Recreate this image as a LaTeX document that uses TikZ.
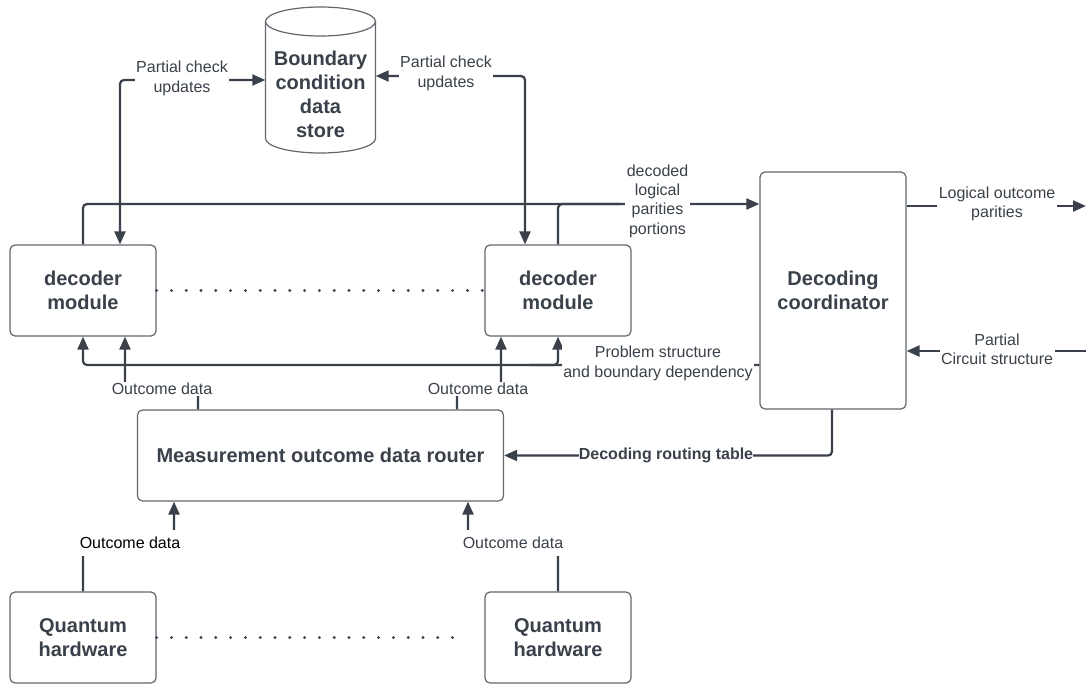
\documentclass[tikz,border=0pt]{standalone}
\usepackage{fontspec}
\setmainfont{Liberation Sans}
\usetikzlibrary{arrows.meta,calc}
\definecolor{ink}{RGB}{58,65,74}
\definecolor{edgec}{RGB}{98,102,110}
\begin{document}
\begin{tikzpicture}[x=1pt,y=-1pt,
 box/.style={draw=edgec,line width=1.2pt,rounded corners=5pt,fill=white,align=center,text=ink,
   font=\fontsize{20}{24}\selectfont\bfseries,minimum width=146pt,minimum height=91pt,inner sep=0pt},
 conn/.style={draw=ink,line width=2.2pt,rounded corners=4pt,>={Triangle[length=13pt,width=11pt]}},
 lbl/.style={fill=white,text=ink,align=center,font=\fontsize{16}{19.3}\selectfont,inner xsep=1.5pt,inner ysep=1pt},
 dots/.style={draw=ink,line width=3.2pt,line cap=round,dash pattern=on 0pt off 14.8pt}]
\useasboundingbox (0,0) rectangle (1086,683);

% cylinder (data store)
\draw[draw=edgec,line width=1.2pt,fill=white] (265.5,21.5) -- (265.5,138.5)
  arc[start angle=180,end angle=360,x radius=55pt,y radius=14.5pt] -- (375.5,21.5);
\draw[draw=edgec,line width=1.2pt,fill=white] (320.5,21.5) ellipse[x radius=55pt,y radius=14.5pt];
\node[minimum width=110pt,inner sep=0pt,align=center,text=ink,font=\fontsize{20}{24}\selectfont\bfseries]
  (store) at (320.5,94) {Boundary\\condition\\data\\store};

% boxes
\node[box] (dec1) at (83,290.5) {decoder\\module};
\node[box] (dec2) at (558,290.5) {decoder\\module};
\node[box,minimum height=237pt] (coord) at (833,290.5) {Decoding\\coordinator};
\node[box,minimum width=366pt,minimum height=91pt] (router) at (320.5,455.5) {Measurement outcome data router};
\node[box] (qh1) at (83,637.5) {Quantum\\hardware};
\node[box] (qh2) at (558,637.5) {Quantum\\hardware};

% dotted ellipses
\draw[dots] (dec1.east) -- (dec2.west);
\coordinate (qdEnd) at (467,637.5);
\draw[dots] (qh1.east) -- (qdEnd);

% coordinates
\coordinate (c1) at (120,80);
\coordinate (c2) at (525,76);
\coordinate (c3) at (0,204);
\coordinate (j1) at (620,204);
\coordinate (c4) at (0,365);
\coordinate (j2) at (530,365);
\coordinate (c5) at (198,389);
\coordinate (c6) at (125,389);
\coordinate (c5r) at (457,389);
\coordinate (c6r) at (501,389);
\coordinate (c7) at (832,0);
\coordinate (c8) at (174,545);
\coordinate (c9) at (468,545);
\coordinate (outR) at (1086,206);
\coordinate (inR) at (1086,351);

% connectors
\draw[conn,<->] (store.west|-c1) -| (dec1.north-|c1);
\draw[conn,<->] (store.east|-c2) -| (dec2.north-|c2);
\draw[conn,->] (dec1.north) |- (coord.west|-c3);
\draw[conn] (dec2.north) |- (j1);
\draw[conn,->] (coord.west|-c4) -| (dec1.south);
\draw[conn,->] (j2) -| (dec2.south);
\draw[conn,->] (router.north-|c5) |- (c6) -- (dec1.south-|c6);
\draw[conn,->] (router.north-|c5r) |- (c6r) -- (dec2.south-|c6r);
\draw[conn,->] (coord.south-|c7) |- (router.east);
\draw[conn,->] (qh1.north) |- (c8) -- (router.south-|c8);
\draw[conn,->] (qh2.north) |- (c9) -- (router.south-|c9);
\draw[conn,->] (coord.east|-outR) -- (outR);
\draw[conn,->] (inR) -- (coord.east|-inR);

% labels
\node[lbl] (l1) at (182,78.5) {Partial check\\updates};
\node[lbl] (l2) at (446,73.5) {Partial check\\updates};
\node[lbl] (l3) at (657.5,201) {decoded\\logical\\parities\\portions};
\node[lbl] (l4) at (658,363.5) {Problem structure\\and boundary dependency};
\node[lbl] (l5) at (162,389) {Outcome data};
\node[lbl] (l6) at (478,389) {Outcome data};
\node[lbl,text=black,minimum height=26pt] (l7) at (130,543) {Outcome data};
\node[lbl,minimum height=26pt] (l8) at (513,543) {Outcome data};
\node[lbl,inner xsep=0pt,font=\fontsize{16}{19.3}\selectfont\bfseries] (l9) at (666,455) {Decoding routing table};
\node[lbl] (l10) at (997,204) {Logical outcome\\parities};
\node[lbl] (l11) at (997,349) {Partial\\Circuit structure};
\end{tikzpicture}
\end{document}
